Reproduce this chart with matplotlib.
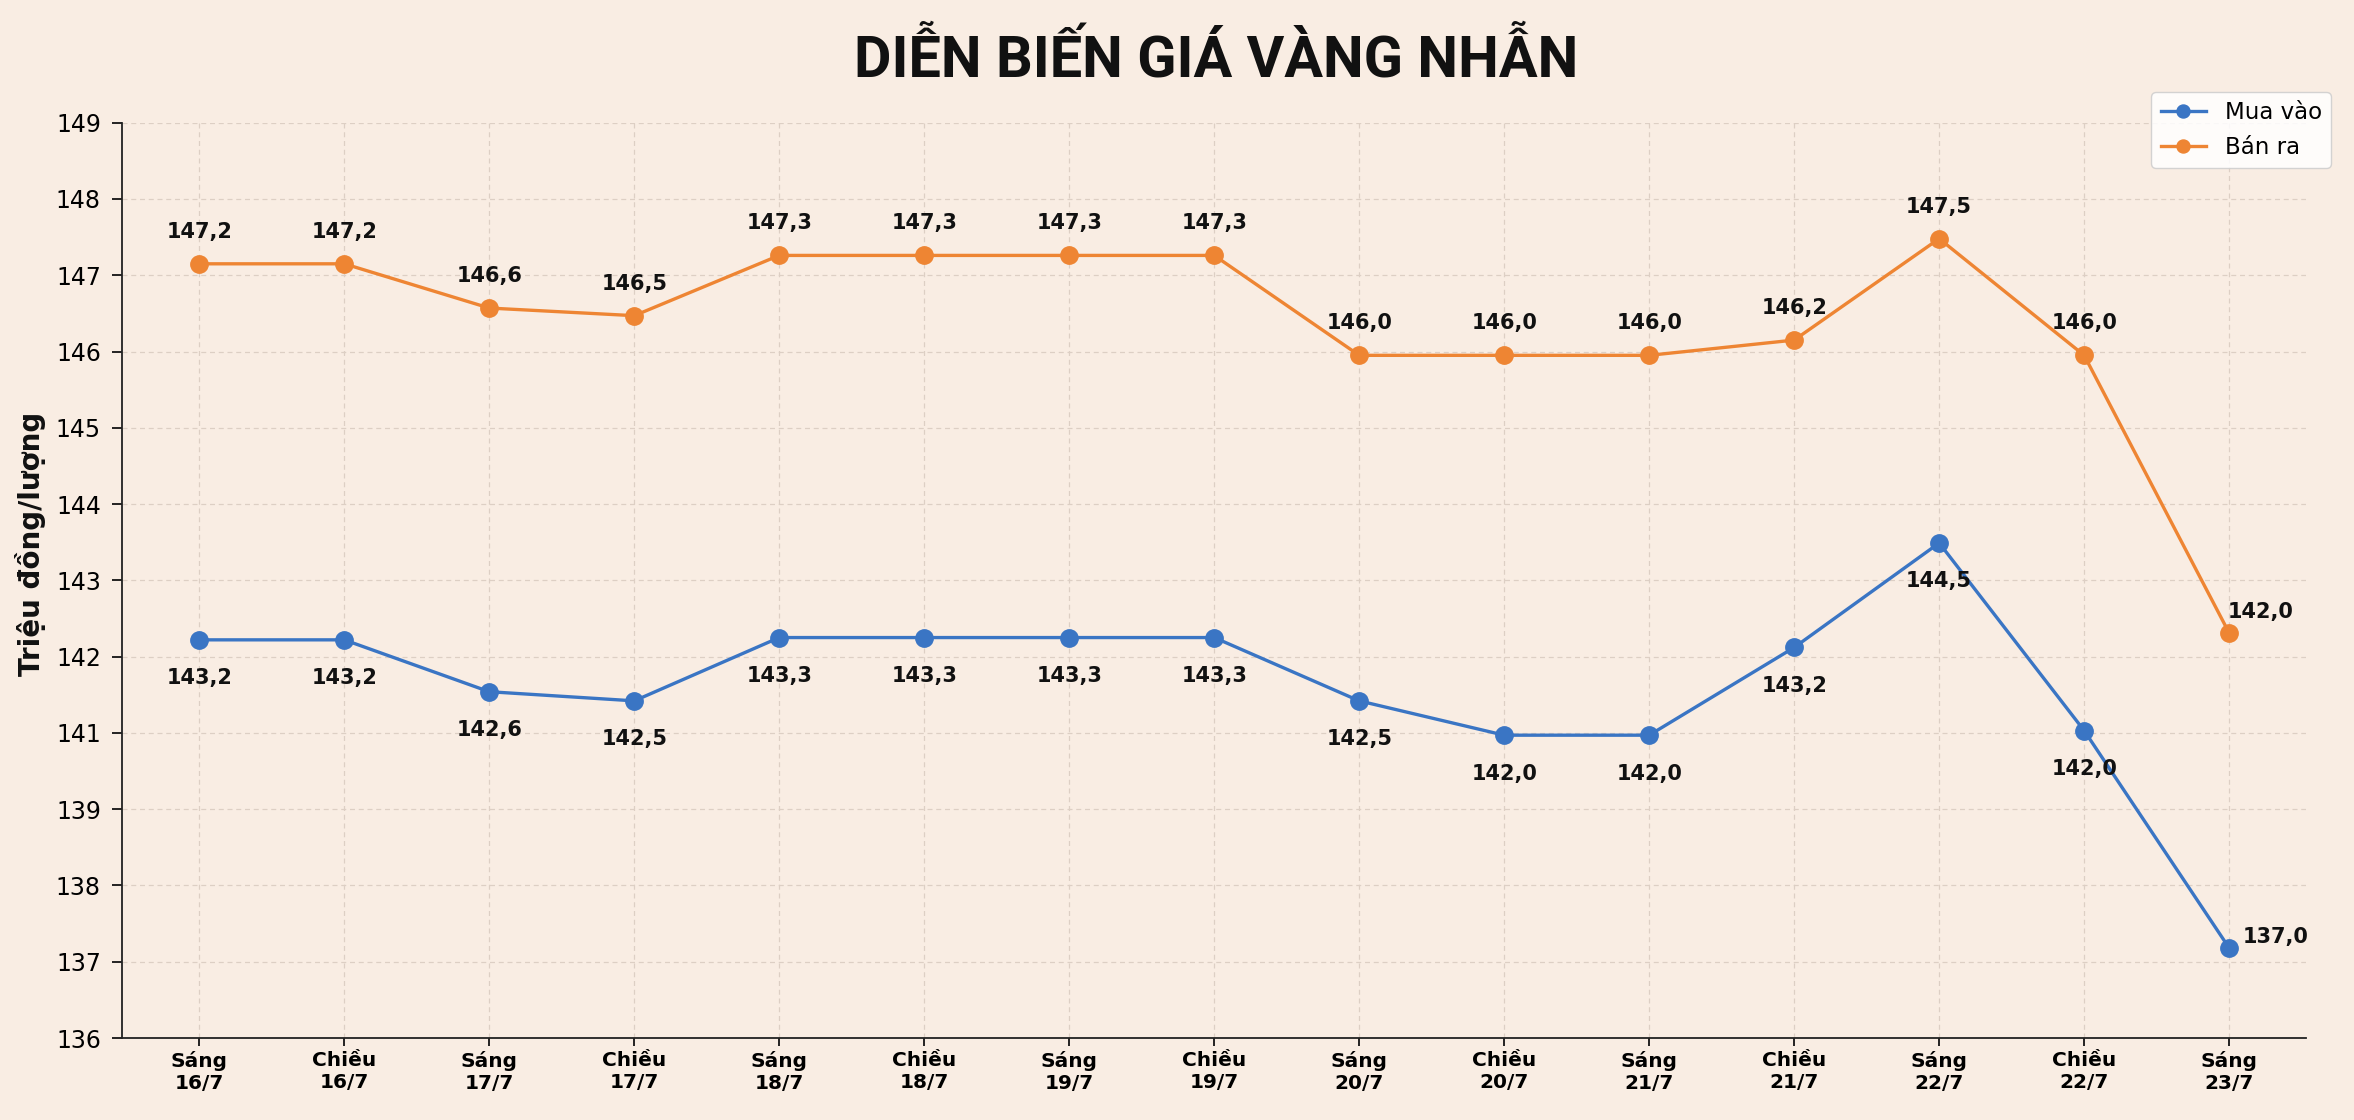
import matplotlib
matplotlib.use("Agg")
import matplotlib.pyplot as plt
import matplotlib.font_manager as fm
from matplotlib.textpath import TextPath
from matplotlib.ft2font import FT2Font

# ---------------- data ----------------
sessions = ["Sáng", "Chiều", "Sáng", "Chiều", "Sáng", "Chiều", "Sáng", "Chiều",
            "Sáng", "Chiều", "Sáng", "Chiều", "Sáng", "Chiều", "Sáng"]
dates = ["16/7", "16/7", "17/7", "17/7", "18/7", "18/7", "19/7", "19/7",
         "20/7", "20/7", "21/7", "21/7", "22/7", "22/7", "23/7"]

# values as drawn on the chart's own (irregular) y scale
buy_plot = [142.22, 142.22, 141.54, 141.42, 142.25, 142.25, 142.25, 142.25,
            141.42, 140.97, 140.97, 142.12, 143.49, 141.03, 138.18]
sell_plot = [147.15, 147.15, 146.57, 146.47, 147.26, 147.26, 147.26, 147.26,
             145.95, 145.95, 145.95, 146.15, 147.48, 145.95, 142.31]

# values printed next to the points
buy_labels = [143.2, 143.2, 142.6, 142.5, 143.3, 143.3, 143.3, 143.3,
              142.5, 142.0, 142.0, 143.2, 144.5, 142.0, 137.0]
sell_labels = [147.2, 147.2, 146.6, 146.5, 147.3, 147.3, 147.3, 147.3,
               146.0, 146.0, 146.0, 146.2, 147.5, 146.0, 142.0]

# y tick positions and their printed labels (the chart skips 140)
ytick_pos = [137, 138, 139, 140, 141, 142, 143, 144, 145, 146, 147, 148, 149]
ytick_labels = ["136", "137", "138", "139", "141", "142", "143", "144",
                "145", "146", "147", "148", "149"]

title = "DIỄN BIẾN GIÁ VÀNG NHẪN"
ylabel = "Triệu đồng/lượng"
series_names = ["Mua vào", "Bán ra"]

# ---------------- style ----------------
BG = "#F9EDE3"
BLUE = "#3A75C4"
ORANGE = "#EE8533"
GRID = "#DDCFC4"

W, H = 2354, 1120
TITLE_W_PX = 717.0


def pick_title_font():
    for fam in ["Roboto", "Lato", "Open Sans", "Noto Sans", "DejaVu Sans"]:
        fp = fm.FontProperties(family=fam, weight="bold")
        try:
            path = fm.findfont(fp, fallback_to_default=False)
            ft = FT2Font(path)
            os2 = ft.get_sfnt_table("OS/2")
            weight = os2["usWeightClass"] if os2 else 400
            cmap = ft.get_charmap()
            if weight < 650:
                continue
            if not all(ord(c) in cmap for c in title if c != " "):
                continue
            fpf = fm.FontProperties(fname=path)
            w = TextPath((0, 0), title, size=100, prop=fpf).get_extents().width
            return fpf, w
        except Exception:
            continue
    fp = fm.FontProperties(family="DejaVu Sans", weight="bold")
    return fp, TextPath((0, 0), title, size=100, prop=fp).get_extents().width


tfp, tw100 = pick_title_font()
title_size_pt = TITLE_W_PX / (tw100 / 100.0) * 0.72

plt.rcParams["font.family"] = ["DejaVu Sans"]

fig = plt.figure(figsize=(W / 100, H / 100), dpi=100)
fig.patch.set_facecolor(BG)

ax_left, ax_right = 121.7 / W, 2306 / W
ax_bottom, ax_top = 1 - 1038 / H, 1 - 122.7 / H
ax = fig.add_axes([ax_left, ax_bottom, ax_right - ax_left, ax_top - ax_bottom])
ax.set_facecolor(BG)

x = list(range(len(sessions)))
l1, = ax.plot(x, buy_plot, color=BLUE, lw=2.4, marker="o", ms=12.5,
              label=series_names[0], zorder=3)
l2, = ax.plot(x, sell_plot, color=ORANGE, lw=2.4, marker="o", ms=12.5,
              label=series_names[1], zorder=3)

ax.set_xlim(-0.535, 14.53)
ax.set_ylim(137, 149)
ax.set_yticks(ytick_pos)
ax.set_yticklabels(ytick_labels)
ax.set_xticks(x)
ax.set_xticklabels([f"{s}\n{d}" for s, d in zip(sessions, dates)],
                   fontsize=14.5, fontweight="bold")
ax.tick_params(axis="y", labelsize=17, length=7, width=1.2, pad=8)
ax.tick_params(axis="x", length=5.5, width=1.2, pad=4)

for s in ["top", "right"]:
    ax.spines[s].set_visible(False)
for s in ["left", "bottom"]:
    ax.spines[s].set_linewidth(1.3)
    ax.spines[s].set_color("#222222")

ax.grid(True, ls=(0, (4, 3)), lw=0.9, color=GRID, zorder=0)
ax.set_axisbelow(True)


def fmt(v):
    return f"{v:.1f}".replace(".", ",")


n = len(x)
for i in range(n):
    # selling price labels
    if i == n - 1:
        ax.annotate(fmt(sell_labels[i]), (x[i], sell_plot[i]), xytext=(-1, 11),
                    textcoords="offset points", ha="left", va="baseline",
                    fontsize=15, fontweight="bold", color="#111111")
    else:
        ax.annotate(fmt(sell_labels[i]), (x[i], sell_plot[i]), xytext=(0, 18.7),
                    textcoords="offset points", ha="center", va="baseline",
                    fontsize=15, fontweight="bold", color="#111111")
    # buying price labels
    if i == n - 1:
        ax.annotate(fmt(buy_labels[i]), (x[i], buy_plot[i]), xytext=(10, 3.6),
                    textcoords="offset points", ha="left", va="baseline",
                    fontsize=15, fontweight="bold", color="#111111")
    else:
        ax.annotate(fmt(buy_labels[i]), (x[i], buy_plot[i]), xytext=(0, -20.5),
                    textcoords="offset points", ha="center", va="top",
                    fontsize=15, fontweight="bold", color="#111111")

leg = fig.legend(handles=[l1, l2], loc="upper right",
                 bbox_to_anchor=(2331 / W, 1 - 92 / H),
                 bbox_transform=fig.transFigure, borderaxespad=0,
                 fontsize=16.5, frameon=True, fancybox=True, framealpha=0.85,
                 markerscale=0.75)
leg.get_frame().set_edgecolor("#CCCCCC")

fig.text(30.8 / W, 1 - 544 / H, ylabel, rotation=90, ha="center", va="center",
         fontsize=20, fontweight="bold", color="#111111")

fig.text(1216.5 / W, 1 - 76.5 / H, title, ha="center", va="baseline",
         fontproperties=tfp, fontsize=title_size_pt, color="#111111")

fig.savefig("out.png", dpi=100, facecolor=BG)
